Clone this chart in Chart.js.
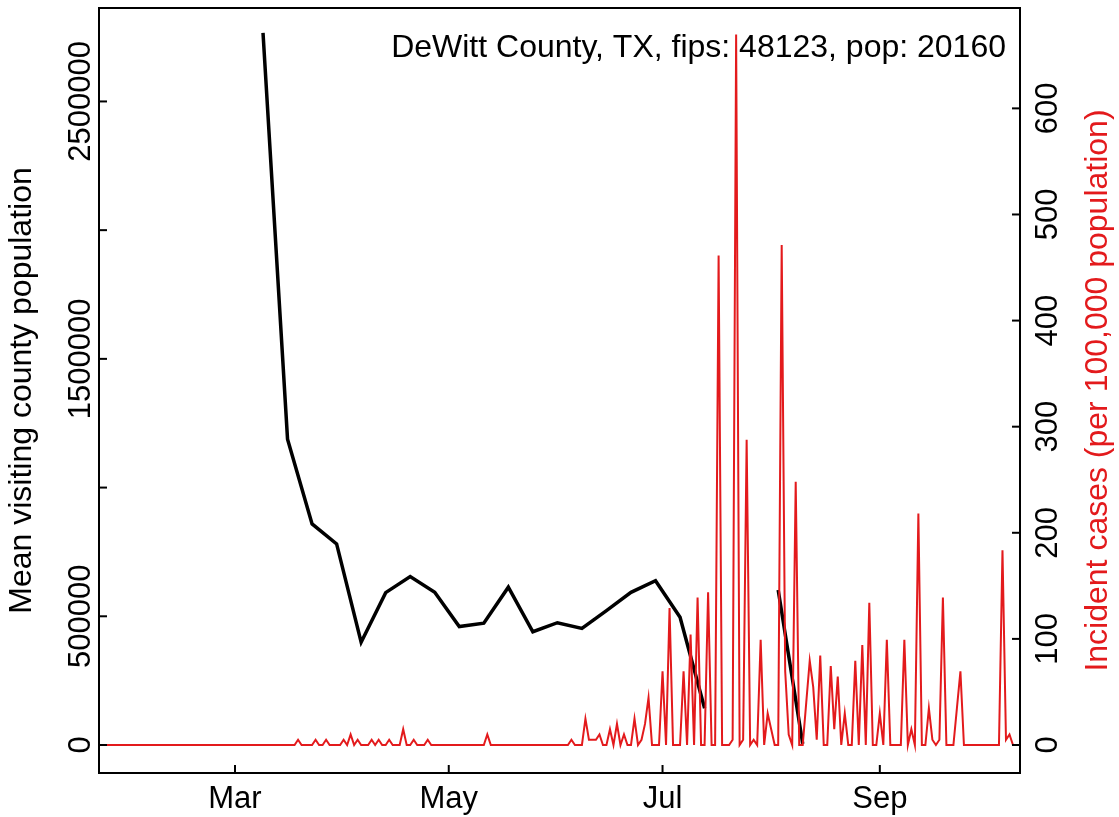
<!DOCTYPE html>
<html>
<head>
<meta charset="utf-8">
<script src="https://cdn.jsdelivr.net/npm/chart.js@4.4.1/dist/chart.umd.min.js"></script>
<style>
html,body{margin:0;padding:0;background:#ffffff;}
canvas{display:block;}
</style>
</head>
<body>
<canvas id="c" width="1119" height="817"></canvas>
<script>
// ---------- texts ----------
const titleText = 'DeWitt County, TX, fips: 48123, pop: 20160';
const leftAxisTitle = 'Mean visiting county population';
const rightAxisTitle = 'Incident cases (per 100,000 population)';

// ---------- tick labels ----------
const xTickDates = ['2020-03-01', '2020-05-01', '2020-07-01', '2020-09-01'];
const xTickLabels = ['Mar', 'May', 'Jul', 'Sep'];
const leftTickValues = [0, 500000, 1000000, 1500000, 2000000, 2500000];
const leftTickLabels = ['0', '500000', '', '1500000', '', '2500000'];
const rightTickValues = [0, 100, 200, 300, 400, 500, 600];
const rightTickLabels = ['0', '100', '200', '300', '400', '500', '600'];

// ---------- black series: weekly mean visiting county population ----------
const visitWeeks = ['2020-03-09','2020-03-16','2020-03-23','2020-03-30','2020-04-06','2020-04-13',
  '2020-04-20','2020-04-27','2020-05-04','2020-05-11','2020-05-18','2020-05-25','2020-06-01',
  '2020-06-08','2020-06-15','2020-06-22','2020-06-29','2020-07-06','2020-07-13','2020-07-20',
  '2020-07-27','2020-08-03','2020-08-10'];
const visitMean = [2766000, 1188000, 859000, 781000, 399000, 592000,
  654000, 593000, 460000, 473000, 613000, 440000, 475000,
  453000, 522000, 593000, 638000, 496000, 143000, null,
  null, 602000, 5000];

// ---------- red series: daily incident cases per 100,000 (first day 2020-01-23) ----------
const caseStartDate = '2020-01-23';
const casesJan = [0,0,0,0,0,0,0,0,0];
const casesFeb = [0,0,0,0,0,0,0,0,0,0,0,0,0,0,0,0,0,0,0,0,0,0,0,0,0,0,0,0,0];
const casesMar = [0,0,0,0,0,0,0,0,0,0,0,0,0,0,0,0,0,0,4.96,0,0,0,0,4.96,0,0,4.96,0,0,0,0];
const casesApr = [4.96,0,9.92,0,4.96,0,0,0,4.96,0,4.96,0,0,4.96,0,0,0,14.88,0,0,4.96,0,0,0,4.96,0,0,0,0,0];
const casesMay = [0,0,0,0,0,0,0,0,0,0,0,9.92,0,0,0,0,0,0,0,0,0,0,0,0,0,0,0,0,0,0,0];
const casesJun = [0,0,0,0,4.96,0,0,0,24.8,4.96,4.96,4.96,9.92,0,0,14.88,0,19.84,0,9.92,0,0,24.8,0,4.96,19.84,44.64,0,0,0];
const casesJul = [69.44,0,128.97,0,0,0,69.44,0,104.17,0,138.89,0,0,143.85,0,0,461.31,0,0,0,4.96,669.64,0,4.96,287.70,0,4.96,0,99.21,0,29.76];
const casesAug = [14.88,0,0,471.23,69.44,9.92,0,248.02,0,0,39.68,79.37,54.56,4.96,84.33,0,0,74.40,14.88,64.48,0,29.76,0,0,79.37,0,94.25,0,133.93,0,0];
const casesSep = [29.76,0,99.21,0,0,0,0,99.21,0,14.88,0,218.25,0,0,34.72,4.96,0,4.96,138.89,0,0,0,34.72,69.44,0,0,0,0,0,0];
const casesOct = [0,0,0,0,0,183.53,4.96,9.92,0,0];

// ---------- helpers ----------
const DAY = 86400000;
const REF = Date.UTC(2020, 2, 1);
function dayNum(s) {
  const p = s.split('-').map(Number);
  return (Date.UTC(p[0], p[1] - 1, p[2]) - REF) / DAY;
}

const caseValues = [].concat(casesJan, casesFeb, casesMar, casesApr, casesMay, casesJun,
                             casesJul, casesAug, casesSep, casesOct);
const caseStart = dayNum(caseStartDate);
const redPoints = caseValues.map((v, i) => ({ x: caseStart + i, y: v }));
const blackPoints = visitWeeks.map((d, i) => ({ x: dayNum(d), y: visitMean[i] }));

const RED = '#E31A1C';
const FAMILY = '"Liberation Sans", Arial, Helvetica, sans-serif';
const TICK_FONT = '31px ' + FAMILY;
const TITLE_FONT = '32px ' + FAMILY;

// ---------- R base-graphics style axes ----------
const rAxes = {
  id: 'rAxes',
  afterDraw(chart) {
    const { ctx, chartArea: a, scales } = chart;
    const TL = 8;
    ctx.save();
    ctx.strokeStyle = '#000';
    ctx.lineWidth = 2;
    ctx.strokeRect(a.left, a.top, a.right - a.left, a.bottom - a.top);
    ctx.fillStyle = '#000';
    ctx.font = TICK_FONT;

    // bottom axis
    ctx.textAlign = 'center';
    ctx.textBaseline = 'alphabetic';
    xTickDates.forEach((d, i) => {
      const px = scales.x.getPixelForValue(dayNum(d));
      ctx.beginPath(); ctx.moveTo(px, a.bottom); ctx.lineTo(px, a.bottom - TL); ctx.stroke();
      ctx.fillText(xTickLabels[i], px, a.bottom + 35);
    });

    // left axis
    leftTickValues.forEach((v, i) => {
      const py = scales.y.getPixelForValue(v);
      ctx.beginPath(); ctx.moveTo(a.left, py); ctx.lineTo(a.left + TL, py); ctx.stroke();
      if (leftTickLabels[i]) {
        ctx.save();
        ctx.translate(a.left - 9.5, py);
        ctx.rotate(-Math.PI / 2);
        ctx.fillText(leftTickLabels[i], 0, 0);
        ctx.restore();
      }
    });

    // right axis
    rightTickValues.forEach((v, i) => {
      const py = scales.y1.getPixelForValue(v);
      ctx.beginPath(); ctx.moveTo(a.right, py); ctx.lineTo(a.right - TL, py); ctx.stroke();
      ctx.save();
      ctx.translate(a.right + 37, py);
      ctx.rotate(-Math.PI / 2);
      ctx.fillText(rightTickLabels[i], 0, 0);
      ctx.restore();
    });

    const midY = (a.top + a.bottom) / 2;
    ctx.font = TITLE_FONT;
    // left axis title
    ctx.save();
    ctx.translate(31, midY);
    ctx.rotate(-Math.PI / 2);
    ctx.fillText(leftAxisTitle, 0, 0);
    ctx.restore();

    // right axis title
    ctx.save();
    ctx.fillStyle = RED;
    ctx.translate(1107, midY);
    ctx.rotate(-Math.PI / 2);
    ctx.fillText(rightAxisTitle, 0, 0);
    ctx.restore();

    // legend-like title at top right
    ctx.textAlign = 'right';
    ctx.fillText(titleText, 1006, 56.5);
    ctx.restore();
  }
};

const hiddenAxis = {
  ticks: { display: false },
  grid: { display: false, drawTicks: false },
  border: { display: false }
};

new Chart(document.getElementById('c'), {
  type: 'line',
  data: {
    datasets: [
      {
        label: rightAxisTitle,
        data: redPoints,
        yAxisID: 'y1',
        borderColor: RED,
        borderWidth: 2,
        pointRadius: 0,
        tension: 0,
        fill: false,
        order: 0
      },
      {
        label: leftAxisTitle,
        data: blackPoints,
        yAxisID: 'y',
        borderColor: '#000000',
        borderWidth: 3.5,
        pointRadius: 0,
        tension: 0,
        fill: false,
        spanGaps: false,
        order: 1
      }
    ]
  },
  options: {
    responsive: false,
    animation: false,
    devicePixelRatio: 1,
    layout: { padding: { top: 8, left: 0, right: 0, bottom: 0 } },
    plugins: { legend: { display: false }, tooltip: { enabled: false } },
    scales: {
      x: Object.assign({
        type: 'linear',
        min: -38.8,
        max: 224.0,
        afterFit(s) { s.height = 44; }
      }, hiddenAxis),
      y: Object.assign({
        type: 'linear',
        position: 'left',
        min: -108800,
        max: 2863000,
        afterFit(s) { s.width = 99; }
      }, hiddenAxis),
      y1: Object.assign({
        type: 'linear',
        position: 'right',
        min: -26.4,
        max: 694.6,
        afterFit(s) { s.width = 99; }
      }, hiddenAxis)
    }
  },
  plugins: [rAxes]
});
</script>
</body>
</html>
